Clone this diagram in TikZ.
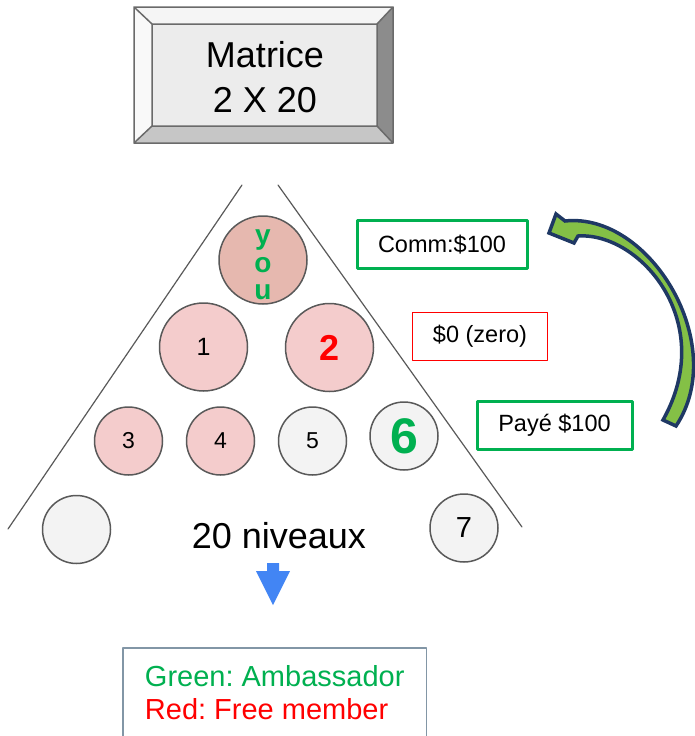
\documentclass[tikz,border=0pt]{standalone}
\usepackage{fontspec}
\setmainfont{Liberation Sans}
\frenchspacing
\usetikzlibrary{calc}

\definecolor{ringgray}{HTML}{595959}
\definecolor{youfill}{HTML}{E6B8AF}
\definecolor{redfill}{HTML}{F4CCCC}
\definecolor{grayfill}{HTML}{F3F3F3}
\definecolor{ambgreen}{HTML}{00B050}
\definecolor{navyline}{HTML}{1F3864}
\definecolor{leafgreen}{HTML}{84C046}
\definecolor{dropblue}{HTML}{4285F4}
\definecolor{legendgray}{HTML}{8296A6}
\newcommand{\fsz}[1]{\fontsize{#1}{#1}\selectfont}

\begin{document}
\begin{tikzpicture}[line cap=round,line join=round,x=1pt,y=-1pt,
    member/.style={circle,draw=ringgray,line width=1.5pt,inner sep=0pt},
    payoutbox/.style={rectangle,minimum height=48,inner sep=0pt,font=\fsz{23.5}}]
    \useasboundingbox (0,0) rectangle (694,736);

    % Matrice box
    \fill[gray!8] (134,7) -- (393,7) -- (377,24) -- (152,24) -- cycle;
    \fill[gray!5] (134,7) -- (152,24) -- (152,126) -- (134,143) -- cycle;
    \fill[gray!90!white] (393,7) -- (393,143) -- (377,126) -- (377,24) -- cycle;
    \fill[gray!45] (134,143) -- (393,143) -- (377,126) -- (152,126) -- cycle;
    \fill[gray!15] (152,24) rectangle (377,126);
    \draw[ringgray!90,line width=1.5pt] (134,7) rectangle (393,143) (152,24) rectangle (377,126)
        (134,7) -- (152,24) (393,7) -- (377,24) (134,143) -- (152,126) (393,143) -- (377,126);
    \draw (265,77) node[align=center,font=\fontsize{36}{45}\selectfont] (matrice) {Matrice\\2 X 20};

    % Triangle
    \draw[ringgray,line width=1.2pt] (242,185) -- (8,529);
    \draw[ringgray,line width=1.2pt] (278,185) -- (522,527);

    % Members
    \draw (263,260) node[member,fill=youfill,minimum size=88,
        label={[align=center,text=ambgreen,yshift=-5pt,font=\bfseries\fontsize{28}{27.5}\selectfont]center:{y\\o\\u}}] (you) {};
    \draw (203.5,347) node[member,fill=redfill,minimum size=88,font=\fsz{25}] (m1) {1};
    \draw (329.5,347.5) node[member,fill=redfill,minimum size=88,text=red,font=\bfseries\fsz{36}] (m2) {2};
    \foreach \name/\x/\col/\lbl in {m3/128.5/redfill/3, m4/220.5/redfill/4, m5/312.5/grayfill/5} {
            \draw (\x,441) node[member,fill=\col,minimum size=68,font=\fsz{23}] (\name) {\lbl};
        }
    \draw (404,436) node[member,fill=grayfill,minimum size=68,text=ambgreen,font=\bfseries\fsz{50}] (m6) {6};
    \draw (76.5,529.5) node[member,fill=grayfill,minimum size=68] (m0) {};
    \draw (464,528) node[member,fill=grayfill,minimum size=68,font=\fsz{29}] (m7) {7};

    \draw (279,536) node[font=\fsz{36}] (levels) {20 niveaux};

    % Payouts
    \draw (442,244.5) node[payoutbox,draw=ambgreen,line width=3pt,minimum width=170] (comm) {Comm:\$100};
    \draw (480,336.5) node[payoutbox,draw=red,line width=1.5pt,minimum width=135] (zero) {\$0 (zero)};
    \draw (554.5,425.5) node[payoutbox,draw=ambgreen,line width=3pt,minimum width=155] (paid) {Payé \$100};

    % Curved arrow
    \filldraw[fill=leafgreen,draw=navyline,line width=3.5pt,line join=miter]
        (565,221) .. controls (650,212) and (730,345) .. (676,426) -- (663,420)
        .. controls (718,322) and (640,232) .. (578,236) -- (574,243) -- (549,233) -- (556,214) -- cycle;

    % Down arrow
    \fill[dropblue] (267,563) -- (279,563) -- (279,571) -- (290,571) -- (273,605) -- (256,571) -- (267,571) -- cycle;

    % Legend
    \draw (123,648) node[anchor=north west,minimum width=303,minimum height=88,inner xsep=18,inner ysep=0,
        align=left,font=\fontsize{29}{33}\selectfont] (legend) {\textcolor{ambgreen}{Green: Ambassador}\\\textcolor{red}{Red: Free member}};
    \draw[legendgray,line width=1.5pt] (legend.south west) |- (legend.north east) -- (legend.south east);
\end{tikzpicture}
\end{document}
